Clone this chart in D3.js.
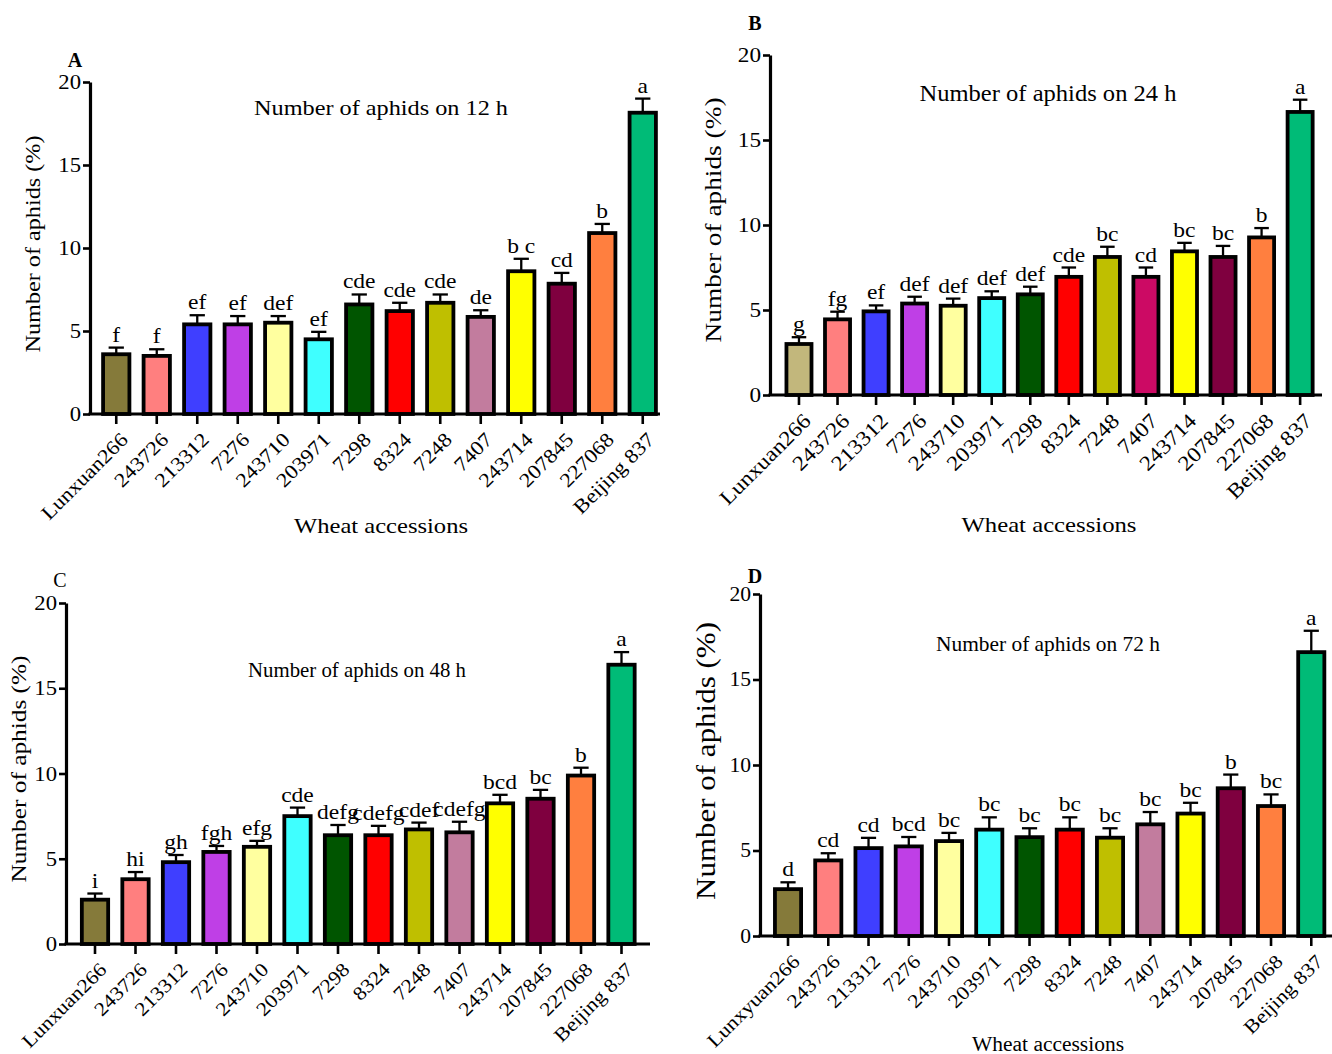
<!DOCTYPE html>
<html><head><meta charset="utf-8">
<script src="https://cdn.jsdelivr.net/npm/d3@7"></script>
<style>
body{margin:0;background:#fff}
svg{display:block}
text{font-family:"Liberation Serif","Times New Roman",serif;fill:#000}
</style>
</head><body>
<svg id="chart" width="1332" height="1054"></svg>
<script>
// ---------------- DATA ----------------
const categories = ["Lunxuan266","243726","213312","7276","243710","203971","7298","8324","7248","7407","243714","207845","227068","Beijing 837"];
const categoriesD = ["Lunxyuan266","243726","213312","7276","243710","203971","7298","8324","7248","7407","243714","207845","227068","Beijing 837"];
const yTicks = [0,5,10,15,20];

const valuesA = [3.6,3.5,5.4,5.4,5.5,4.5,6.6,6.2,6.7,5.85,8.6,7.85,10.9,18.15];
const errorsA = [0.4,0.4,0.55,0.5,0.4,0.45,0.6,0.5,0.5,0.4,0.75,0.65,0.55,0.85];
const lettersA = ["f","f","ef","ef","def","ef","cde","cde","cde","de","b c","cd","b","a"];

const valuesB = [3.0,4.45,4.92,5.38,5.25,5.7,5.92,6.95,8.12,6.95,8.45,8.12,9.27,16.65];
const errorsB = [0.4,0.45,0.35,0.4,0.42,0.4,0.45,0.55,0.6,0.55,0.5,0.65,0.55,0.72];
const lettersB = ["g","fg","ef","def","def","def","def","cde","bc","cd","bc","bc","b","a"];

const valuesC = [2.6,3.8,4.8,5.4,5.7,7.5,6.38,6.38,6.72,6.55,8.25,8.52,9.88,16.38];
const errorsC = [0.36,0.42,0.42,0.35,0.35,0.5,0.6,0.55,0.4,0.62,0.5,0.52,0.46,0.74];
const lettersC = ["i","hi","gh","fgh","efg","cde","defg","cdefg","cdef","cdefg","bcd","bc","b","a"];

const valuesD = [2.74,4.42,5.14,5.24,5.55,6.22,5.78,6.22,5.75,6.53,7.16,8.64,7.6,16.6];
const errorsD = [0.4,0.42,0.6,0.55,0.48,0.72,0.52,0.72,0.55,0.72,0.63,0.8,0.68,1.25];
const lettersD = ["d","cd","cd","bcd","bc","bc","bc","bc","bc","bc","bc","b","bc","a"];

const colors  = ["#857a3a","#ff7f7f","#3f3fff","#bf3fe6","#ffff9f","#3fffff","#005500","#ff0000","#bfbf00","#c27c9e","#ffff00","#7f003f","#ff7f3f","#00bb77"];
const colorsB = ["#c2b77c","#ff7f7f","#3f3fff","#bf3fe6","#ffff9f","#3fffff","#005500","#ff0000","#bfbf00","#cc0a64","#ffff00","#7f003f","#ff7f3f","#00bb77"];

const titles = ["Number of aphids on 12 h","Number of aphids on 24 h","Number of aphids on 48 h","Number of aphids on 72 h"];
const yLabel = "Number of aphids (%)";
const xLabel = "Wheat accessions";

// ---------------- LAYOUT ----------------
const panels = [
  {tag:"A", cats:categories, vals:valuesA, errs:errorsA, letters:lettersA, cols:colors, title:titles[0],
   axisX:90, y0:414, y20:82, band:[96,663], xEnd:660,
   tagPos:[75,67], titlePos:[381,115], titleSize:21.5, titleW:254,
   ylabPos:[32,244], ylabSize:22, ylabW:217, xlabPos:[381,533], xlabSize:21.5, xlabW:174,
   tickSize:20, numSize:21, letterSize:21},
  {tag:"B", cats:categories, vals:valuesB, errs:errorsB, letters:lettersB, cols:colorsB, title:titles[1],
   axisX:770, y0:395, y20:55, band:[779.7,1319.4], xEnd:1322,
   tagPos:[755,30], titlePos:[1048,101], titleSize:22.5, titleW:257,
   ylabPos:[713,220], ylabSize:24, ylabW:245, xlabPos:[1049,532], xlabSize:21.5, xlabW:175,
   tickSize:21, numSize:21.5, letterSize:21},
  {tag:"C", cats:categories, vals:valuesC, errs:errorsC, letters:lettersC, cols:colors, title:titles[2],
   axisX:66, y0:944, y20:603, band:[74.75,641.75], xEnd:650,
   tagPos:[60,587], titlePos:[357,677], titleSize:21, titleW:218,
   ylabPos:[18,769], ylabSize:22, ylabW:227, xlabPos:null,
   tickSize:19.5, numSize:21, letterSize:21, tagBold:false},
  {tag:"D", cats:categoriesD, vals:valuesD, errs:errorsD, letters:lettersD, cols:colors, title:titles[3],
   axisX:760, y0:936, y20:594, band:[767.9,1331.4], xEnd:1332,
   tagPos:[755,583], titlePos:[1048,651], titleSize:21, titleW:224,
   ylabPos:[706,761], ylabSize:27, ylabW:278, xlabPos:[1048,1051], xlabSize:20.5, xlabW:152,
   tickSize:19.5, numSize:20, letterSize:21}
];

const svg = d3.select("#chart");
const WIDEN = 1.12;

function widen(sel, k) {
  sel.each(function(){
    const w = this.getComputedTextLength();
    d3.select(this).attr("textLength", w * k).attr("lengthAdjust", "spacingAndGlyphs");
  });
}

function drawPanel(p) {
  const g = svg.append("g");
  const pi = 0.35;
  const x = d3.scaleBand().domain(p.cats).range(p.band).paddingInner(pi).paddingOuter(pi / 2);
  const y = d3.scaleLinear().domain([0, 20]).range([p.y0, p.y20]);
  const data = p.cats.map((c, i) => ({c, v: p.vals[i], e: p.errs[i], l: p.letters[i], col: p.cols[i]}));
  const bw = x.bandwidth();
  const capW = bw * 0.58;

  // error bars
  const eb = g.append("g").attr("stroke", "#000").attr("stroke-width", 2.3);
  eb.selectAll("line.v").data(data).join("line")
    .attr("x1", d => x(d.c) + bw / 2).attr("x2", d => x(d.c) + bw / 2)
    .attr("y1", d => y(d.v)).attr("y2", d => y(d.v + d.e));
  eb.selectAll("line.cap").data(data).join("line")
    .attr("x1", d => x(d.c) + bw / 2 - capW / 2).attr("x2", d => x(d.c) + bw / 2 + capW / 2)
    .attr("y1", d => y(d.v + d.e)).attr("y2", d => y(d.v + d.e));

  // bars
  g.append("g").selectAll("rect").data(data).join("rect")
    .attr("x", d => x(d.c)).attr("width", bw)
    .attr("y", d => y(d.v)).attr("height", d => p.y0 - y(d.v))
    .attr("fill", d => d.col).attr("stroke", "#000").attr("stroke-width", 3.8);

  // significance letters
  g.append("g").selectAll("text").data(data).join("text")
    .attr("x", d => x(d.c) + bw / 2).attr("y", d => y(d.v + d.e) - 6)
    .attr("text-anchor", "middle").attr("font-size", p.letterSize)
    .text(d => d.l).call(widen, 1.12);

  // y axis
  const ya = g.append("g").attr("transform", `translate(${p.axisX},0)`)
    .call(d3.axisLeft(y).tickValues(yTicks).tickSize(7).tickSizeOuter(0).tickPadding(2));
  ya.select(".domain").attr("stroke-width", 3.2);
  ya.selectAll(".tick line").attr("stroke-width", 2.6);
  ya.selectAll(".tick text").attr("font-size", p.numSize).attr("font-family", "Liberation Serif").call(widen, 1.08);

  // x axis
  const xa = g.append("g").attr("transform", `translate(0,${p.y0})`)
    .call(d3.axisBottom(x).tickSize(10).tickSizeOuter(0));
  xa.select(".domain").remove();
  xa.selectAll(".tick line").attr("stroke-width", 2.6);
  xa.selectAll(".tick text")
    .attr("font-size", p.tickSize).attr("font-family", "Liberation Serif")
    .attr("x", 0).attr("y", 0).attr("dy", "0.35em")
    .attr("text-anchor", "end")
    .attr("transform", "translate(8,22) rotate(-45)")
    .call(widen, WIDEN);
  g.append("line").attr("x1", p.axisX - 1.6).attr("x2", p.xEnd)
    .attr("y1", p.y0).attr("y2", p.y0).attr("stroke", "#000").attr("stroke-width", 3.2);

  // title
  g.append("text").attr("x", p.titlePos[0]).attr("y", p.titlePos[1])
    .attr("text-anchor", "middle").attr("font-size", p.titleSize)
    .attr("textLength", p.titleW).attr("lengthAdjust", "spacingAndGlyphs").text(p.title);

  // y label
  g.append("text").attr("transform", `translate(${p.ylabPos[0]},${p.ylabPos[1]}) rotate(-90)`)
    .attr("text-anchor", "middle").attr("dominant-baseline", "central").attr("font-size", p.ylabSize)
    .attr("textLength", p.ylabW).attr("lengthAdjust", "spacingAndGlyphs").text(yLabel);

  // x label
  if (p.xlabPos) {
    g.append("text").attr("x", p.xlabPos[0]).attr("y", p.xlabPos[1])
      .attr("text-anchor", "middle").attr("font-size", p.xlabSize)
      .attr("textLength", p.xlabW).attr("lengthAdjust", "spacingAndGlyphs").text(xLabel);
  }

  // panel tag
  g.append("text").attr("x", p.tagPos[0]).attr("y", p.tagPos[1])
    .attr("text-anchor", "middle").attr("font-size", 20)
    .attr("font-weight", p.tagBold === false ? "normal" : "bold").text(p.tag);
}

panels.forEach(drawPanel);
</script>
</body></html>
